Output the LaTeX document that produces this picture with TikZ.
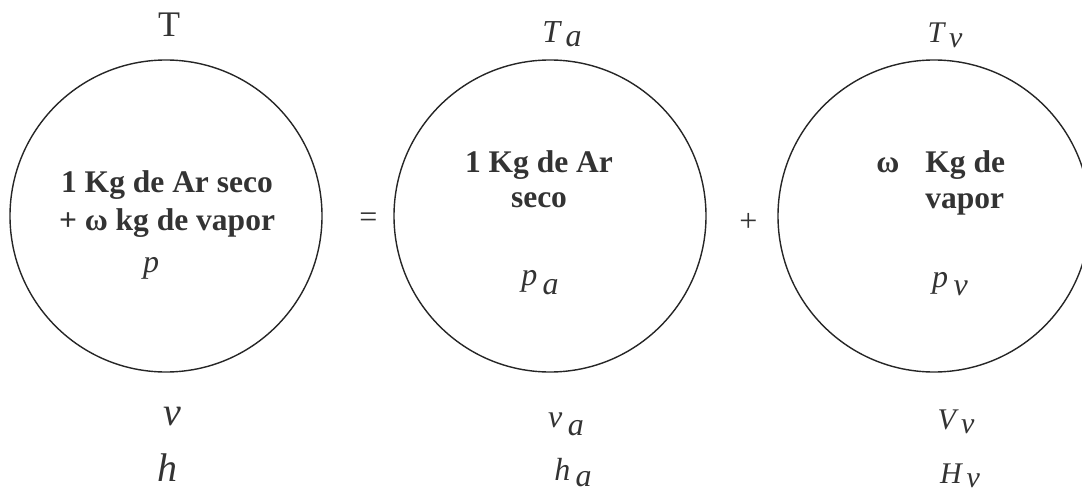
\documentclass[tikz,border=0pt]{standalone}
\usepackage{fontspec}
\setmainfont{Liberation Serif}
\usetikzlibrary{positioning}
\definecolor{ink}{HTML}{333333}
\newcommand{\sbs}[3][3pt]{#2\,\raisebox{-#1}{#3}}

\begin{document}
\begin{tikzpicture}[
    every node/.style={text=ink, inner sep=0pt},
    ball/.style={circle, draw=black!85, line width=0.7pt, minimum size=156pt, inner sep=0pt, outer sep=0pt},
    sign/.style={font=\fontsize{16}{19}\selectfont},
    mass/.style={font=\bfseries\fontsize{15.75}{19}\selectfont, align=center, anchor=base},
    prop/.style={font=\itshape\fontsize{16}{19}\selectfont, anchor=base},
    bigprop/.style={prop, font=\itshape\fontsize{20}{24}\selectfont},
    midprop/.style={prop, font=\itshape\fontsize{15}{18}\selectfont}
]

\useasboundingbox (0,0) rectangle (541pt,-246pt);

% ================= CIRCLES =================
\node[ball] (mix) at (83pt,-108pt) {};
\node[ball, right=36pt of mix] (air) {};
\node[ball, right=36pt of air] (vap) {};

\node[sign, right=18.5pt of mix, yshift=-2pt] (eq) {=};
\node[sign, right=16.5pt of air, yshift=-3pt] (plus) {+};

% ================= CONTENTS =================
% base anchor of a two-line node sits on its last line
\node[mass] (mixtxt) at ([shift={(0.5pt,-7pt)}]mix.center) {1 Kg de Ar seco\\+ ω kg de vapor};
\node[mass, font=\bfseries\fontsize{15.75}{17.5}\selectfont] (airtxt) at ([shift={(-5.5pt,4.5pt)}]air.center) {1 Kg de Ar\\seco};
\node[mass] (omega) at ([shift={(-23pt,21.5pt)}]vap.center) {ω};
\node[mass, font=\bfseries\fontsize{15.75}{17.5}\selectfont, align=left, anchor=base west] (vaptxt) at ([shift={(-4.5pt,4pt)}]vap.center) {Kg de\\vapor};

\node[prop] (p) at ([shift={(-7.5pt,-28pt)}]mix.center) {p};
\node[prop] (pa) at ([shift={(-5pt,-34.5pt)}]air.center) {\sbs[5pt]{p}{a}};
\node[prop] (pv) at ([shift={(8pt,-35.5pt)}]vap.center) {\sbs[4pt]{p}{v}};

% ================= TOP LABELS =================
\node[prop, font=\fontsize{18}{20}\selectfont] (T) at ([shift={(1.5pt,11.5pt)}]mix.north) {T};
\node[prop] (Ta) at ([shift={(6pt,8.5pt)}]air.north) {\sbs[2pt]{T}{a}};
\node[midprop] (Tv) at ([shift={(5.5pt,8.5pt)}]vap.north) {\sbs[2.5pt]{T}{v}};

% ================= BOTTOM LABELS =================
\node[bigprop] (v) at ([shift={(3pt,-26.5pt)}]mix.south) {v};
\node[bigprop] (h) at ([shift={(0.5pt,-54.5pt)}]mix.south) {h};
\node[prop] (va) at ([shift={(8pt,-27.5pt)}]air.south) {\sbs[4pt]{v}{a}};
\node[prop] (ha) at ([shift={(11.5pt,-54pt)}]air.south) {\sbs[3pt]{h}{a}};
\node[midprop] (Vv) at ([shift={(11pt,-28.5pt)}]vap.south) {\sbs[2pt]{V}{v}};
\node[midprop] (Hv) at ([shift={(13pt,-55.5pt)}]vap.south) {\sbs[2pt]{H}{v}};

\end{tikzpicture}
\end{document}
